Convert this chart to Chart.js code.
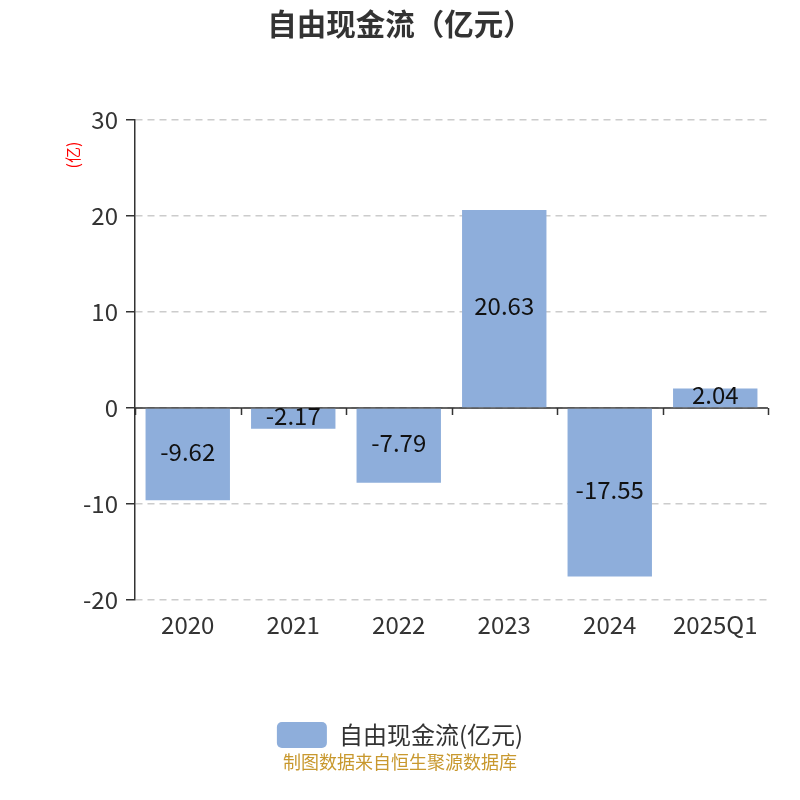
<!DOCTYPE html>
<html>
<head>
<meta charset="utf-8">
<script src="https://cdn.jsdelivr.net/npm/chart.js@4/dist/chart.umd.min.js"></script>
<style>
  html, body { margin: 0; padding: 0; background: #fff; }
  #wrap { width: 800px; height: 800px; }
</style>
</head>
<body>
<div id="wrap"><canvas id="fcfChart" width="800" height="800"></canvas></div>
<script>
const years = ['2020', '2021', '2022', '2023', '2024', '2025Q1'];
const fcfValues = [-9.62, -2.17, -7.79, 20.63, -17.55, 2.04];
const yTicks = [-20, -10, 0, 10, 20, 30];

const FONT = "'Noto Sans CJK SC', 'Noto Sans', sans-serif";
const barColor = '#8eaedb';

// zero line with small ticks between categories, under the bars
const zeroAxis = {
    id: 'zeroAxis',
    beforeDatasetsDraw(chart) {
        const { ctx, chartArea, scales } = chart;
        const y0 = scales.y.getPixelForValue(0);
        const xs = scales.x;
        const n = years.length;
        ctx.save();
        ctx.strokeStyle = '#333';
        ctx.lineWidth = 1.5;
        ctx.beginPath();
        ctx.moveTo(chartArea.left, y0);
        ctx.lineTo(chartArea.right, y0);
        for (let i = 0; i <= n; i++) {
            let x;
            if (i === 0) x = chartArea.left;
            else if (i === n) x = chartArea.right;
            else x = (xs.getPixelForValue(i - 1) + xs.getPixelForValue(i)) / 2;
            x = Math.round(x) + 0.5;
            ctx.moveTo(x, y0);
            ctx.lineTo(x, y0 + 7);
        }
        ctx.stroke();
        ctx.restore();
    }
};

// value inside each bar, plus y unit and footer
const extraText = {
    id: 'extraText',
    afterDatasetsDraw(chart) {
        const { ctx } = chart;
        const meta = chart.getDatasetMeta(0);
        ctx.save();
        ctx.font = '24px ' + FONT;
        ctx.fillStyle = '#111';
        ctx.textAlign = 'center';
        ctx.textBaseline = 'middle';
        meta.data.forEach((bar, i) => {
            ctx.fillText(fcfValues[i].toFixed(2), bar.x, (bar.y + bar.base) / 2 - 3);
        });
        ctx.restore();
    },
    afterDraw(chart) {
        const { ctx } = chart;
        ctx.save();
        ctx.translate(73, 155);
        ctx.rotate(-Math.PI / 2);
        ctx.font = '16px ' + FONT;
        ctx.fillStyle = '#ff0000';
        ctx.textAlign = 'center';
        ctx.textBaseline = 'middle';
        ctx.fillText('(亿)', 0, 0);
        ctx.restore();

        ctx.save();
        ctx.font = '18px ' + FONT;
        ctx.fillStyle = '#c8982e';
        ctx.textAlign = 'center';
        ctx.textBaseline = 'middle';
        ctx.fillText('制图数据来自恒生聚源数据库', 400, 762);
        ctx.restore();
    }
};

new Chart(document.getElementById('fcfChart'), {
    type: 'bar',
    data: {
        labels: years,
        datasets: [{
            label: '自由现金流(亿元)',
            data: fcfValues,
            backgroundColor: barColor,
            borderWidth: 0,
            barPercentage: 0.8,
            categoryPercentage: 1.0
        }]
    },
    options: {
        responsive: false,
        animation: false,
        layout: { padding: { left: 32, right: 32, top: 0, bottom: 42 } },
        plugins: {
            title: {
                display: true,
                text: '自由现金流（亿元）',
                color: '#333',
                font: { family: FONT, size: 29.5, weight: 'bold' },
                padding: { top: 6, bottom: 78.6 }
            },
            legend: {
                position: 'bottom',
                labels: {
                    boxWidth: 50,
                    boxHeight: 26,
                    useBorderRadius: true,
                    borderRadius: 5,
                    padding: 10,
                    color: '#333',
                    font: { family: FONT, size: 24 }
                }
            },
            tooltip: { enabled: false }
        },
        scales: {
            x: {
                grid: { display: false, drawTicks: false },
                border: { display: false },
                ticks: {
                    color: '#333',
                    font: { family: FONT, size: 24 },
                    padding: 10,
                    maxRotation: 0
                },
                afterFit(scale) { scale.height = 112; }
            },
            y: {
                min: -20,
                max: 30,
                afterBuildTicks(scale) {
                    scale.ticks = yTicks.map(v => ({ value: v }));
                },
                grid: {
                    color: '#cccccc',
                    lineWidth: 1.5,
                    drawTicks: true,
                    tickLength: 9,
                    tickColor: '#333',
                    tickWidth: 1.5
                },
                border: { display: true, color: '#333', width: 1.5, dash: [7, 5] },
                ticks: {
                    color: '#333',
                    font: { family: FONT, size: 24 },
                    padding: 8
                },
                afterFit(scale) { scale.width = 103; }
            }
        }
    },
    plugins: [zeroAxis, extraText]
});
</script>
</body>
</html>
